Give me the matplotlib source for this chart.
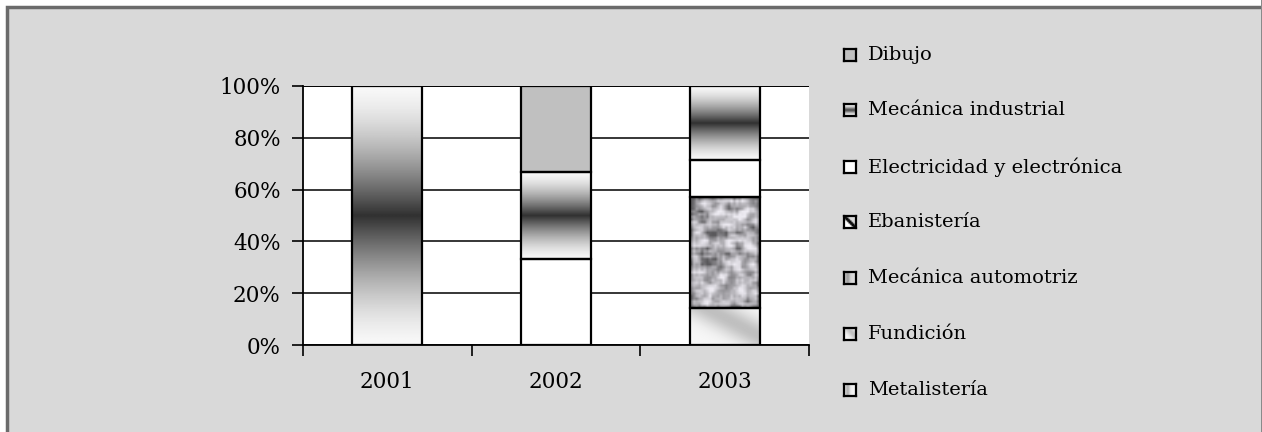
import numpy as np
import matplotlib.pyplot as plt
from matplotlib.patches import Rectangle

# Data (number of graduates per program; shown as 100% stacked)
years = ["2001", "2002", "2003"]
metalisteria = [0, 0, 0]
fundicion = [0, 0, 1]
mecanica_automotriz = [0, 0, 3]
ebanisteria = [0, 0, 0]
electricidad = [0, 1, 1]
mecanica_industrial = [1, 1, 2]
dibujo = [0, 1, 0]

series_names = ["Metalistería", "Fundición", "Mecánica automotriz", "Ebanistería",
                "Electricidad y electrónica", "Mecánica industrial", "Dibujo"]
series_values = [metalisteria, fundicion, mecanica_automotriz, ebanisteria,
                 electricidad, mecanica_industrial, dibujo]

W, H, DPI = 1262, 432, 100
FONT = "DejaVu Serif"


# Fill textures for each series
def tex_band(n=200):
    t = np.linspace(0, 1, n)
    v = 0.97 - 0.78 * (1 - np.abs(2 * t - 1)) ** 1.5
    return np.repeat(v[:, None], 20, axis=1)


def tex_flat(v):
    return np.full((4, 4), v)


def tex_diag(n=60):
    y, x = np.mgrid[0:1:n * 1j, 0:1:n * 1j]
    d = (x - y + 1) / 2
    return 0.97 - 0.22 * np.exp(-((d - 0.62) / 0.22) ** 2)


def tex_granite(nx=26, ny=42):
    y, x = np.mgrid[0:ny, 0:nx].astype(float)
    h = np.sin(x * 12.9898 + y * 78.233) * 43758.5453
    noise = h - np.floor(h)
    k = np.ones(3) / 3
    noise = np.apply_along_axis(lambda r: np.convolve(r, k, mode="same"), 0, noise)
    noise = np.apply_along_axis(lambda r: np.convolve(r, k, mode="same"), 1, noise)
    lo, hi = np.percentile(noise, [3, 97])
    noise = np.clip((noise - lo) / (hi - lo), 0, 1)
    g = 0.35 + 0.58 * noise ** 0.8
    return np.dstack([g, g * 0.99, g * 1.02]).clip(0, 1)


def tex_metal(n=40):
    y, x = np.mgrid[0:1:n * 1j, 0:1:n * 1j]
    return 0.95 - 0.25 * np.exp(-((x - 0.3) / 0.2) ** 2)


def tex_eban_swatch(n=8):
    d = np.subtract.outer(np.arange(n), np.arange(n))
    return np.where(np.abs(d) < 2, 0.05, np.where(d > 0, 1.0, 0.85))


textures = {
    "Metalistería": tex_metal(),
    "Fundición": tex_diag(),
    "Mecánica automotriz": tex_granite(),
    "Ebanistería": tex_diag(),
    "Electricidad y electrónica": tex_flat(1.0),
    "Mecánica industrial": tex_band(),
    "Dibujo": tex_flat(0.753),
}
legend_tex = dict(textures)
legend_tex["Ebanistería"] = tex_eban_swatch()
legend_tex["Mecánica automotriz"] = tex_metal() * 0.9
legend_tex["Mecánica industrial"] = tex_band(8)

fig = plt.figure(figsize=(W / DPI, H / DPI), dpi=DPI, facecolor="white")

# Outer frame of the chart area
fig.patches.append(Rectangle((7 / W, -0.1), 1.3, 1 - 7 / H + 0.1, transform=fig.transFigure,
                             facecolor="#d9d9d9", edgecolor="#6b6b6b", linewidth=2.5, zorder=-5))
fig.patches.append(Rectangle((1260.5 / W, 0), 2 / W, 1, transform=fig.transFigure,
                             facecolor="#8a8a8a", edgecolor="none", zorder=-4))

ax = fig.add_axes([303 / W, 1 - 345 / H, (809 - 303) / W, (345 - 86) / H])
ax.set_facecolor("white")

x = np.arange(len(years))
totals = np.sum(np.array(series_values, dtype=float), axis=0)
bar_w = 0.415
bottom = np.zeros(len(years))
for name, vals in zip(series_names, series_values):
    pct = np.array(vals, dtype=float) / totals * 100
    for i in range(len(years)):
        if pct[i] <= 0:
            continue
        x0, x1 = x[i] - bar_w / 2, x[i] + bar_w / 2
        y0, y1 = bottom[i], bottom[i] + pct[i]
        ax.imshow(textures[name], cmap="gray", vmin=0, vmax=1, extent=[x0, x1, y0, y1],
                  aspect="auto", interpolation="bilinear", zorder=2)
        ax.add_patch(Rectangle((x0, y0), bar_w, pct[i], facecolor="none",
                               edgecolor="black", linewidth=1.6, zorder=3))
    bottom += pct

ax.set_xlim(-0.5, len(years) - 0.5)
ax.set_ylim(0, 100)
ax.set_yticks(np.arange(0, 101, 20))
ax.set_yticklabels([f"{v}%" for v in range(0, 101, 20)], fontsize=15.5, family=FONT)
ax.set_xticks(x)
ax.set_xticklabels(years, fontsize=15.5, family=FONT)
ax.set_xticks(np.arange(-0.5, len(years), 1), minor=True)
ax.tick_params(axis="x", which="major", length=0, pad=19)
ax.tick_params(axis="x", which="minor", length=8, width=1.2, direction="out")
ax.tick_params(axis="y", length=8, width=1.2, direction="out", pad=8)
ax.yaxis.grid(True, color="black", linewidth=1.1)
ax.set_axisbelow(True)
for s in ["top", "right"]:
    ax.spines[s].set_visible(False)
for s in ["left", "bottom"]:
    ax.spines[s].set_linewidth(1.3)
ax.axhline(100, color="black", linewidth=1.3, zorder=1)

# Legend (drawn manually, top entry is the last series)
legend_y = [55, 110, 167, 222, 278, 334, 390]
for name, yy in zip(series_names[::-1], legend_y):
    sw = fig.add_axes([844 / W, 1 - (yy + 6) / H, 12 / W, 12 / H])
    sw.imshow(legend_tex[name], cmap="gray", vmin=0, vmax=1, aspect="auto",
              interpolation="bilinear")
    sw.set_xticks([])
    sw.set_yticks([])
    for sp in sw.spines.values():
        sp.set_linewidth(1.6)
    fig.text(868 / W, 1 - yy / H, name, fontsize=14, family=FONT, va="center", ha="left")

fig.savefig("out.png", dpi=DPI, facecolor=fig.get_facecolor())
